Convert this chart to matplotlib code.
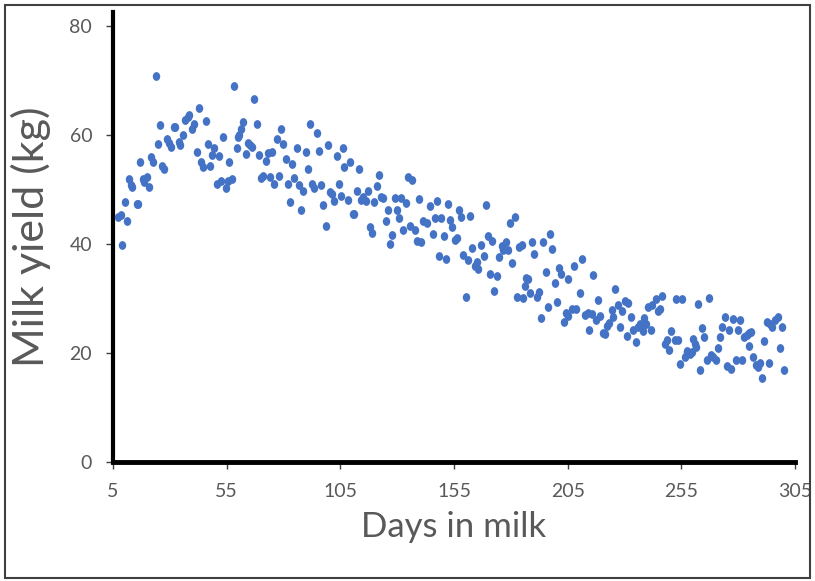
import matplotlib
matplotlib.use("Agg")
import matplotlib.pyplot as plt
from matplotlib.patches import Rectangle
from matplotlib.path import Path
from matplotlib.transforms import Affine2D

# days in milk / milk yield (kg)
days = [23.9, 9.1, 7.3, 8.4, 11.0, 10.1, 12.0, 13.5, 12.9, 15.4, 16.0, 16.9, 18.3, 19.8, 18.8, 20.8,
        21.9, 22.7, 24.9, 25.8, 26.7, 27.6, 28.8, 29.6, 30.6, 31.8, 32.4, 33.9, 34.6, 35.6, 36.7, 37.9,
        38.6, 39.9, 40.6, 42.7, 45.7, 41.8, 43.7, 44.7, 46.6, 47.7, 49.6, 48.7, 51.5, 53.5, 50.6, 52.5,
        54.6, 55.7, 56.2,
        58.4, 67.2, 62.3, 61.3, 60.4, 60.1, 68.2, 59.4, 64.3, 65.4, 66.3, 63.4, 69.2, 73.0, 75.1, 72.2,
        57.4, 70.1, 71.1, 74.1, 76.0, 78.0, 77.0, 78.9, 79.9, 81.0, 81.8, 83.9, 82.9, 84.8, 86.8, 88.7,
        85.8, 87.7, 89.8, 90.6, 91.7, 92.7, 93.6, 94.6, 95.6, 96.5, 97.5, 98.6, 99.5, 100.6, 101.5, 102.4,
        103.4, 104.4, 105.3, 106.3, 106.8,
        109.3, 113.2, 108.2, 110.4, 111.2, 112.2, 114.1, 115.1, 116.1, 117.2, 118.1, 119.1, 120.0, 121.0,
        122.0, 123.0, 123.9, 125.0, 126.0, 126.9, 127.9, 128.9, 129.8, 130.8, 131.8, 133.8, 132.7, 134.8,
        136.5, 135.7, 137.7, 138.7, 140.6, 139.6, 141.5, 143.3, 144.5, 145.7, 146.5, 147.4, 148.4, 149.4,
        150.5, 151.4, 152.3, 153.3, 154.3, 155.5, 156.2, 157.2,
        158.1, 162.1, 159.1, 161.0, 160.2, 163.1, 164.3, 165.0, 165.7, 166.9, 168.1, 169.0, 170.0, 171.9,
        171.0, 172.7, 173.8, 174.8, 176.0, 176.7, 177.8, 178.6, 179.7, 181.9, 180.7, 182.6, 185.5, 183.8,
        184.8, 186.6, 187.4, 186.3, 188.5, 189.5, 190.3, 191.4, 192.4, 193.3, 194.3, 195.3, 196.4, 197.3,
        198.3, 199.3, 200.3, 201.2, 202.1, 203.3, 204.1, 205.0, 205.3, 207.0, 207.9,
        211.3, 216.2, 210.5, 208.7, 212.6, 214.1, 215.6, 214.5, 217.4, 218.4, 219.3, 220.4, 221.3, 222.2,
        223.4, 224.4, 225.1, 226.0, 227.0, 228.0, 229.1, 230.0, 231.7, 231.0, 232.9, 233.9, 235.0, 235.8,
        236.8, 237.6, 238.6, 239.5, 238.0, 240.5, 242.0, 243.9, 241.5, 244.9, 245.6, 246.5, 247.6, 248.6,
        249.6, 250.6, 252.2, 253.7, 252.5, 255.3, 254.5, 256.6, 257.7,
        267.2, 262.2, 264.3, 265.1, 260.3, 261.0, 261.5, 257.4, 258.8, 259.6, 263.2, 266.1, 268.1, 269.1,
        270.2, 271.0, 272.0, 273.1, 274.0, 275.0, 276.9, 276.0, 277.9, 279.0, 279.8, 280.8, 281.8, 282.7,
        283.8, 284.8, 285.7, 284.8, 286.7, 287.7, 288.6, 289.6, 290.7, 291.5, 292.6, 294.0, 295.1, 296.2,
        297.4, 293.6, 298.4, 299.5, 300.3]

milk_yield = [70.8, 39.9, 45.0, 45.4, 44.2, 47.7, 51.9, 50.5, 50.8, 47.3, 47.3, 55.1, 52.0, 52.3, 51.4, 50.5,
              56.0, 55.1, 58.3, 61.8, 54.3, 53.8, 59.2, 58.5, 57.9, 61.4, 61.4, 58.8, 58.2, 60.1, 62.8, 63.4,
              63.7, 61.1, 62.1, 64.9, 62.6, 56.9, 55.1, 54.2, 58.3, 54.4, 57.7, 56.3, 56.2, 59.7, 51.0, 51.5,
              50.3, 51.6, 55.1,
              69.0, 66.7, 62.4, 61.2, 60.0, 59.7, 62.0, 57.7, 58.5, 58.2, 57.9, 56.5, 56.4, 56.8, 56.9, 55.3,
              52.0, 52.1, 52.5, 52.4, 51.1, 52.5, 59.2, 61.2, 58.3, 55.6, 51.1, 54.7, 47.7, 52.1, 50.9, 49.7,
              57.7, 46.2, 56.9, 53.8, 62.0, 51.1, 50.3, 60.4, 57.1, 50.8, 47.1, 43.4, 58.2, 49.6, 49.2, 47.9,
              56.1, 51.0, 48.9, 57.7, 54.1,
              55.0, 53.8, 48.0, 45.6, 45.5, 49.8, 48.1, 48.7, 47.9, 49.7, 43.1, 42.1, 47.7, 50.6,
              52.6, 48.7, 48.4, 44.2, 46.2, 40.1, 41.7, 48.4, 46.2, 44.7, 48.5, 47.6, 42.5, 52.4,
              51.7, 43.4, 42.6, 40.6, 40.3, 48.2, 44.2, 43.9, 46.9, 41.8, 44.8, 47.9, 37.8, 44.7,
              41.5, 37.3, 47.3, 44.5, 43.1, 40.7, 41.2, 46.2,
              45.0, 45.1, 38.0, 37.1, 30.3, 39.2, 36.0, 36.8, 35.5, 39.8, 37.9, 47.1, 41.5, 40.6,
              34.6, 31.4, 34.2, 37.7, 39.6, 38.9, 40.4, 39.0, 43.8, 45.0, 36.5, 30.3, 30.1, 39.4,
              39.8, 33.7, 33.5, 32.3, 31.1, 40.4, 38.1, 30.3, 31.2, 26.4, 40.4, 34.9, 28.4, 41.8,
              39.1, 32.9, 29.4, 35.7, 34.6, 25.7, 27.4, 26.8, 33.6, 28.0, 36.0,
              37.2, 34.3, 31.1, 28.0, 27.0, 27.3, 27.2, 24.2, 26.1, 29.7, 26.8, 23.7, 23.5, 25.0,
              25.6, 27.9, 26.7, 31.7, 28.8, 24.7, 27.8, 29.5, 29.2, 23.1, 26.7, 24.2, 22.0, 24.8,
              25.3, 24.8, 26.4, 25.4, 24.0, 28.4, 28.9, 29.9, 24.3, 27.7, 28.0, 30.5, 21.7, 22.4,
              20.6, 24.0, 22.4, 22.4, 29.9, 30.0, 18.0, 19.3, 20.4,
              30.1, 29.0, 24.6, 22.9, 22.5, 21.7, 21.2, 20.1, 19.9, 20.2, 16.9, 18.8, 19.6, 19.3,
              18.7, 21.0, 22.9, 24.8, 26.7, 17.6, 17.0, 24.2, 26.2, 18.8, 24.3, 26.1, 18.8, 22.9,
              23.3, 23.7, 23.9, 21.3, 19.2, 17.8, 17.5, 18.2, 15.4, 22.3, 25.7, 25.3, 24.7, 26.1,
              26.6, 18.1, 21.0, 24.8, 16.9]

x_ticks = [5, 55, 105, 155, 205, 255, 305]
y_ticks = [0, 20, 40, 60, 80]

GRAY = "#595959"
BLUE = "#4472C4"
FONT = ["Lato", "DejaVu Sans"]

fig = plt.figure(figsize=(8.15, 5.81), dpi=100)
ax = fig.add_axes([113 / 815, 119 / 581, 682 / 815, 450 / 581])

# dots look a bit taller than wide in the original
dot = Path.unit_circle().transformed(Affine2D().scale(0.85, 1.0))
ax.scatter(days, milk_yield, s=40, marker=dot, color=BLUE, linewidths=0, zorder=3)

ax.set_xlim(5, 305)
ax.set_ylim(0, 82.6)
ax.set_xticks(x_ticks)
ax.set_yticks(y_ticks)
ax.set_xticklabels([str(t) for t in x_ticks], family=FONT, fontsize=14, color=GRAY)
ax.set_yticklabels([str(t) for t in y_ticks], family=FONT, fontsize=14, color=GRAY)
ax.tick_params(axis="both", direction="out", length=5, width=1, color="#404040", pad=10)

for side in ["top", "right"]:
    ax.spines[side].set_visible(False)
ax.spines["left"].set_linewidth(3)
ax.spines["bottom"].set_linewidth(3.5)
ax.spines["left"].set_color("black")
ax.spines["bottom"].set_color("black")
ax.spines["bottom"].set_zorder(4)

ax.set_xlabel("Days in milk", family=FONT, fontsize=25, color=GRAY, labelpad=8)
ax.set_ylabel("Milk yield (kg)", family=FONT, fontsize=31, color=GRAY, labelpad=13)

# thin frame round the whole picture
fig.patches.append(Rectangle((5 / 815, 3 / 581), 805 / 815, 573 / 581, transform=fig.transFigure,
                             fill=False, edgecolor="#404040", linewidth=1.5))

fig.savefig("out.png", dpi=100)
